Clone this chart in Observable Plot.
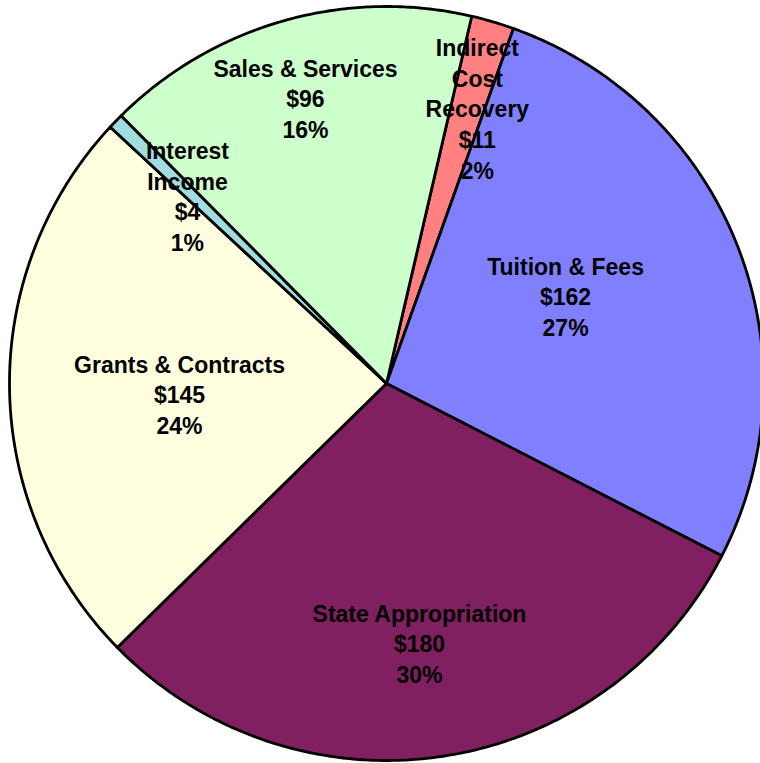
<!DOCTYPE html>
<html>
<head>
<meta charset="utf-8">
<script src="https://cdn.jsdelivr.net/npm/d3@7"></script>
<script src="https://cdn.jsdelivr.net/npm/@observablehq/plot@0.6"></script>
<style>
  html, body { margin: 0; padding: 0; background: #fff; }
  #chart svg { display: block; }
</style>
</head>
<body>
<div id="chart"></div>
<script>
// ---- data (clockwise, starting from the Indirect Cost Recovery slice) ----
const categories = ["Indirect Cost Recovery", "Tuition & Fees", "State Appropriation", "Grants & Contracts", "Interest Income", "Sales & Services"];
const labelNames = ["Indirect\nCost\nRecovery", "Tuition & Fees", "State Appropriation", "Grants & Contracts", "Interest\nIncome", "Sales & Services"];
const values = [11, 162, 180, 145, 4, 96];
const colors = ["#FF8080", "#8080FF", "#802060", "#FFFFE0", "#A0DCE0", "#CCFFCC"];
// label block centres, in units of the pie radius relative to its centre
const labelX = [0.241, 0.475, 0.0875, -0.549, -0.528, -0.215];
const labelY = [0.732, 0.233, -0.687, -0.027, 0.500, 0.759];

// ---- layout ----
const W = 760, H = 763;
const cx = 386, cy = 383, R = 377;
const start = 13.06 * Math.PI / 180;

const total = d3.sum(values);
const slices = categories.map((c, i) => ({name: c, value: values[i], color: colors[i]}));
const arcs = d3.pie().value(d => d.value).sort(null)
  .startAngle(start).endAngle(start + 2 * Math.PI)(slices);

const pts = [];
for (const a of arcs) {
  const n = Math.max(4, Math.ceil((a.endAngle - a.startAngle) / (Math.PI / 360)));
  pts.push({name: a.data.name, color: a.data.color, x: 0, y: 0});
  for (let k = 0; k <= n; k++) {
    const t = a.startAngle + (a.endAngle - a.startAngle) * k / n;
    pts.push({name: a.data.name, color: a.data.color, x: Math.sin(t), y: Math.cos(t)});
  }
  pts.push({name: a.data.name, color: a.data.color, x: 0, y: 0});
}

const labels = categories.map((c, i) => ({
  x: labelX[i], y: labelY[i],
  text: `${labelNames[i]}\n$${values[i]}\n${Math.round(values[i] / total * 100)}%`
}));

const chart = Plot.plot({
  width: W, height: H,
  marginTop: 0, marginRight: 0, marginBottom: 0, marginLeft: 0,
  x: {domain: [-1, 1], range: [cx - R, cx + R], axis: null},
  y: {domain: [-1, 1], range: [cy + R, cy - R], axis: null},
  color: {type: "identity"},
  style: {background: "#fff", overflow: "hidden"},
  marks: [
    Plot.line(pts, {x: "x", y: "y", z: "name", fill: "color", stroke: "#000", strokeWidth: 2.8, strokeLinejoin: "round", curve: "linear"}),
    Plot.text(labels, {x: "x", y: "y", text: "text", fontSize: 23, fontWeight: "bold", fontFamily: "'Liberation Sans', Arial, sans-serif", lineHeight: 1.33, fill: "#000", textAnchor: "middle", lineAnchor: "middle"})
  ]
});
document.getElementById("chart").appendChild(chart);
</script>
</body>
</html>
